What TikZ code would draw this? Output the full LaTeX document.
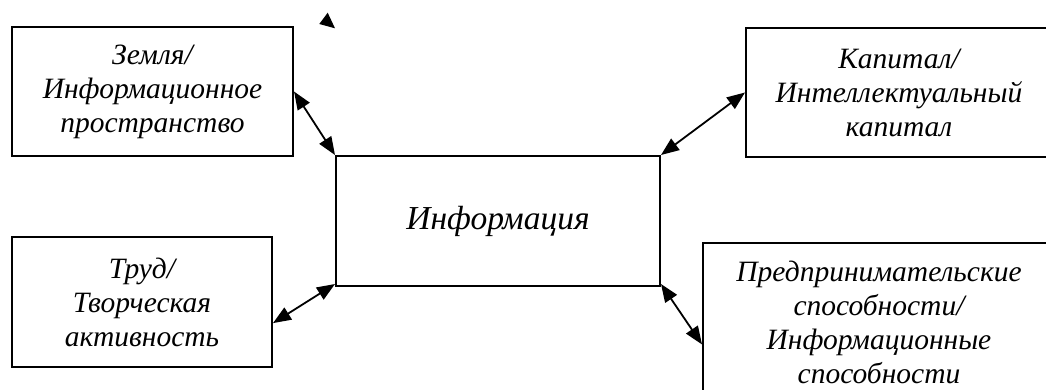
\documentclass[tikz,border=0pt]{standalone}
\usepackage{fontspec}
\setmainfont{Liberation Serif}
\usetikzlibrary{arrows.meta,calc}
\begin{document}
\begin{tikzpicture}[x=1pt,y=-1pt,
  box/.style={draw=black,line width=2pt,rectangle,inner sep=0pt,align=center,
    font=\fontsize{29.5}{34}\selectfont\itshape},
  link/.style={line width=1.8pt,{Triangle[length=18pt,width=14pt]}-{Triangle[length=18pt,width=14pt]}}]
\useasboundingbox (0,0) rectangle (1046,389);
\fill[white] (0,0) rectangle (1046,389);
\node[box,minimum width=281pt,minimum height=129pt] (zem) at (152.5,91.5) {Земля/\\Информационное\\пространство};
\node[box,minimum width=306pt,minimum height=129pt] (kap) at (899,92.5) {Капитал/\\Интеллектуальный\\капитал};
\node[box,minimum width=324pt,minimum height=130pt,font=\fontsize{33.5}{38}\selectfont\itshape] (info) at (498,221) {Информация};
\node[box,minimum width=260pt,minimum height=130pt] (trud) at (142,302) {Труд/\\Творческая\\активность};
\node[box,minimum width=352pt,minimum height=158pt] (pred) at (879,322) {Предпринимательские\\способности/\\Информационные\\способности};
\coordinate (trudA) at ($(trud.north east)!0.66!(trud.south east)$);
\coordinate (predA) at ($(pred.north west)!0.64!(pred.south west)$);
\draw[link] (zem.east) -- (info.north west);
\draw[link] (kap.west) -- (info.north east);
\draw[link] (trudA) -- ([yshift=3pt]info.south west);
\draw[link] ([yshift=3pt]info.south east) -- (predA);
\fill (327.7,12.7) -- (319.3,24) -- (335,28.3) -- cycle;
\end{tikzpicture}
\end{document}
